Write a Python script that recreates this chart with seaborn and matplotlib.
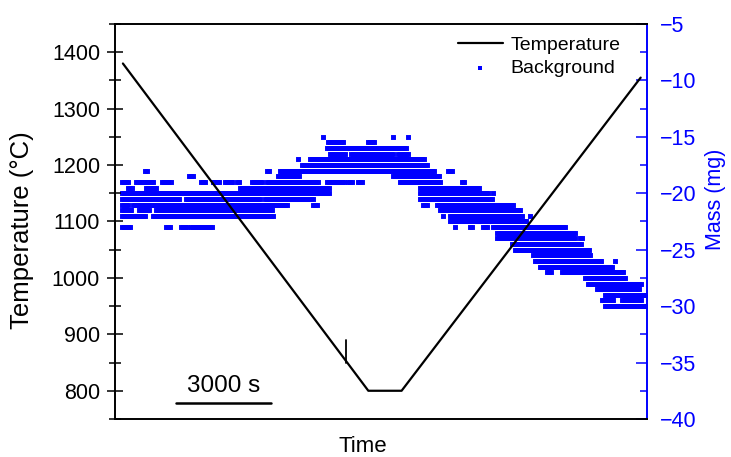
import numpy as np
import pandas as pd
import matplotlib
matplotlib.use("Agg")
import matplotlib.pyplot as plt
from matplotlib.ticker import MultipleLocator
import seaborn as sns

# Furnace temperature programme: time (s) and set temperature (°C)
temp_time = [250, 8000, 9050, 16600]
temp_value = [1380, 800, 800, 1355]

# Background mass readings (mg). The balance reads in 0.5 mg steps; for each
# reading level the time spans (s) over which it was logged.
mass_levels = [-15.0, -15.5, -16.0, -16.5, -17.0, -17.5, -18.0, -18.5,
               -19.0, -19.5, -20.0, -20.5, -21.0, -21.5, -22.0, -22.5,
               -23.0, -23.5, -24.0, -24.5, -25.0, -25.5, -26.0, -26.5,
               -27.0, -27.5, -28.0, -28.5, -29.0, -29.5, -30.0]
mass_spans = [
    [(6570, 6570), (8780, 8780), (9250, 9250)],
    [(6730, 7260), (7990, 8210)],
    [(6700, 7600), (7700, 8500), (8600, 9220)],
    [(6790, 7300), (7450, 8800), (8950, 9250)],
    [(5780, 5780), (6160, 9790)],
    [(5900, 9880)],
    [(950, 1040), (4800, 4900), (5210, 10110), (10520, 10640)],
    [(2340, 2460), (5150, 5840), (8780, 10260)],
    [(220, 440), (660, 1200), (1480, 1800), (2720, 2840), (3100, 3320),
     (3470, 3730), (3850, 3950), (4330, 4640), (4800, 6000), (6100, 6400),
     (6700, 7260), (7360, 7520), (7680, 7830), (9000, 10260), (10950, 11050)],
    [(410, 540), (980, 1300), (3950, 6790), (9630, 11530)],
    [(220, 6790), (9630, 11840), (11940, 11940)],
    [(220, 2050), (2240, 4580), (4740, 6250), (9630, 11940)],
    [(220, 410), (570, 5430), (6250, 6380), (9730, 9850), (10170, 12570)],
    [(220, 540), (760, 1100), (1300, 4990), (10260, 12790)],
    [(220, 950), (1200, 4990), (10360, 10360), (10580, 12880), (13110, 13110)],
    [(10580, 13000)],
    [(220, 470), (1610, 1740), (2080, 2300), (2400, 2600), (2700, 3100),
     (10740, 10740), (11210, 11300), (11620, 11750), (11940, 14270)],
    [(12060, 14530)],
    [(12060, 14530), (14690, 14750)],
    [(12540, 14750)],
    [(12630, 15000)],
    [(13200, 15000)],
    [(13260, 15380), (15790, 15790)],
    [(13420, 15700)],
    [(13640, 13800), (14120, 16040)],
    [(14840, 16110)],
    [(14940, 16640)],
    [(15220, 16580)],
    [(15470, 16740)],
    [(15380, 15790), (16010, 16640)],
    [(15470, 16740)],
]
sample_period = 60  # s between logged balance readings

# Scale bar for the unlabelled time axis
scale_bar = (1930, 4930)
scale_label = "3000 s"

# Marker placed on the cooling ramp
event_time = 7300
event_temps = (850, 890)

BLUE = "#0000ff"

temp_df = pd.DataFrame({"time": temp_time, "temperature": temp_value})
rows = []
for level, spans in zip(mass_levels, mass_spans):
    for t0, t1 in spans:
        for t in np.arange(t0, t1 + 1, sample_period):
            rows.append((t, level))
mass_df = pd.DataFrame(rows, columns=["time", "mass"])

sns.set_style("ticks")
plt.rcParams["font.family"] = ["Liberation Sans", "DejaVu Sans"]
plt.rcParams.update({"text.color": "black", "axes.labelcolor": "black",
                     "xtick.color": "black", "ytick.color": "black"})

fig = plt.figure(figsize=(7.31, 4.57), dpi=100)
ax = fig.add_axes([0.1573, 0.0832, 0.7278, 0.8643])
ax2 = ax.twinx()

sns.scatterplot(data=mass_df, x="time", y="mass", ax=ax2, marker="s",
                s=12.5, color=BLUE, linewidth=0, legend=False,
                label="Background")
ax2.collections[0].set_snap(False)
sns.lineplot(data=temp_df, x="time", y="temperature", ax=ax,
             color="black", lw=1.6, label="Temperature", legend=False)

# temperature axis drawn above the mass layer
ax.set_zorder(ax2.get_zorder() + 1)
ax.patch.set_visible(False)

ax.set_xlim(0, 16800)
ax.set_ylim(750, 1450)
ax.yaxis.set_major_locator(MultipleLocator(100))
ax.yaxis.set_minor_locator(MultipleLocator(50))
ax.set_xticks([])
ax.tick_params(axis="y", which="major", direction="inout", length=11.5,
               width=1.1, pad=5, labelsize=15.5, colors="black")
ax.tick_params(axis="y", which="minor", direction="inout", length=8,
               width=1.1, colors="black")

ax2.set_ylim(-40, -5)
ax2.yaxis.set_major_locator(MultipleLocator(5))
ax2.yaxis.set_minor_locator(MultipleLocator(2.5))
ax2.tick_params(axis="y", which="major", direction="in", length=8,
                width=1.1, pad=9.4, labelsize=15.5, colors=BLUE)
ax2.tick_params(axis="y", which="minor", direction="in", length=5,
                width=1.1, colors=BLUE)
ax2.set_xticks([])

for side in ["left", "top", "bottom", "right"]:
    ax.spines[side].set_linewidth(1.4)
    ax.spines[side].set_color("black")
    ax2.spines[side].set_linewidth(1.4)
ax.spines["right"].set_visible(False)
for side in ["left", "top", "bottom"]:
    ax2.spines[side].set_visible(False)
ax2.spines["right"].set_color(BLUE)

ax.set_xlabel("Time", fontsize=16)
ax.xaxis.set_label_coords(0.466, -0.043)
ax.set_ylabel("Temperature (°C)", fontsize=18.5)
ax.yaxis.set_label_coords(-0.152, 0.477)
ax2.set_ylabel("Mass (mg)", fontsize=15.5, color=BLUE)
ax2.yaxis.set_label_coords(1.109, 0.556)

# scale bar and event marker
ax.plot(scale_bar, [779, 779], color="black", lw=1.8)
ax.text(np.mean(scale_bar), 808, scale_label, ha="center", va="center",
        fontsize=17.5)
ax.plot([event_time, event_time], event_temps, color="black", lw=1.3)

h1 = ax.get_lines()[0]
h2 = ax2.collections[0]
ax.legend([h1, h2], ["Temperature", "Background"], loc="upper left",
          bbox_to_anchor=(458 / 731, 1 - 36 / 457),
          bbox_transform=fig.transFigure, frameon=False, fontsize=14,
          handlelength=2.3, handletextpad=0.4, borderpad=0,
          borderaxespad=0, labelspacing=0.3, scatterpoints=1,
          markerscale=1.0)

fig.savefig("out.png", dpi=100)
